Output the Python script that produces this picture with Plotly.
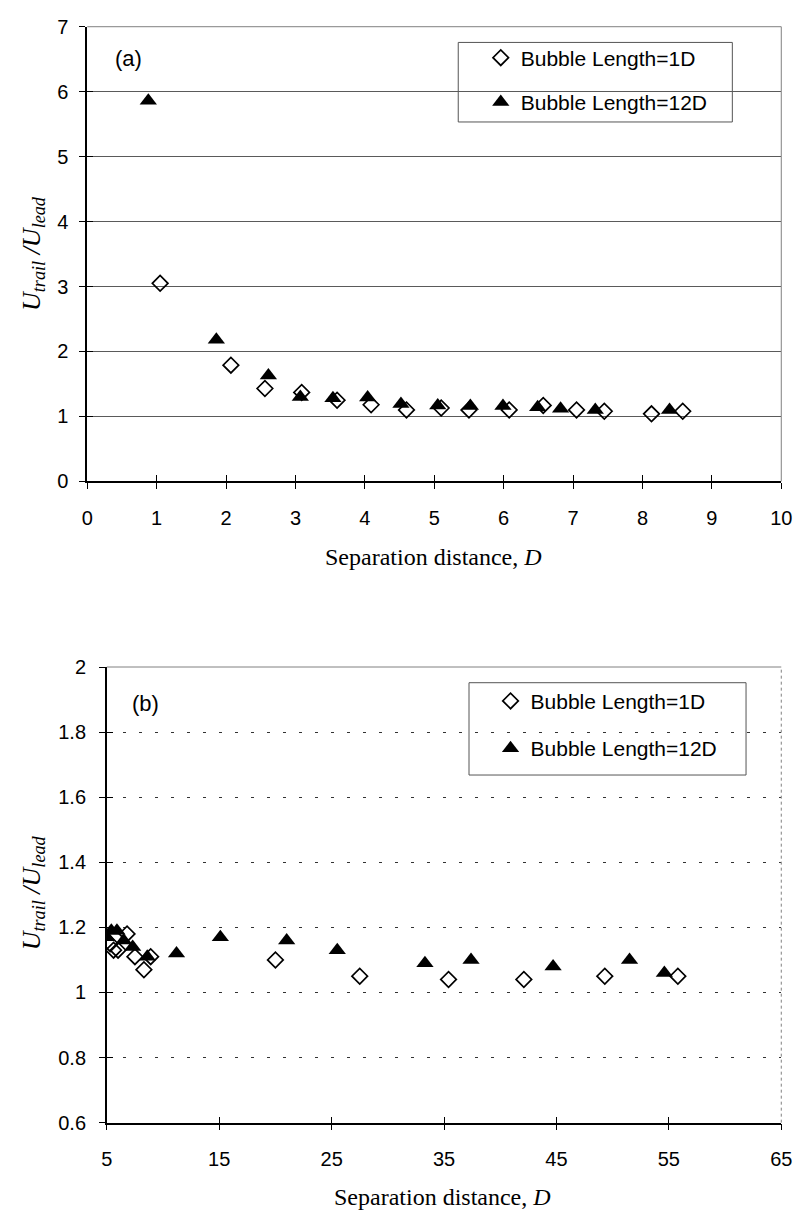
import plotly.graph_objects as go

# ---------- data: panel (a) ----------
a_1d_x = [1.05, 2.07, 2.56, 3.09, 3.60, 4.09, 4.60, 5.10, 5.50, 6.08, 6.57, 7.05, 7.45, 8.13, 8.58]
a_1d_y = [3.05, 1.79, 1.43, 1.37, 1.25, 1.18, 1.10, 1.13, 1.10, 1.10, 1.17, 1.10, 1.08, 1.04, 1.08]
a_12d_x = [0.88, 1.86, 2.61, 3.07, 3.54, 4.04, 4.52, 5.05, 5.52, 5.99, 6.49, 6.82, 7.32, 8.39]
a_12d_y = [5.86, 2.18, 1.63, 1.30, 1.28, 1.29, 1.19, 1.17, 1.16, 1.16, 1.14, 1.12, 1.10, 1.10]

# ---------- data: panel (b) ----------
b_1d_x = [5.3, 5.6, 6.0, 6.8, 7.5, 8.3, 8.9, 20.0, 27.5, 35.4, 42.1, 49.3, 55.8]
b_1d_y = [1.15, 1.13, 1.13, 1.18, 1.11, 1.07, 1.11, 1.10, 1.05, 1.04, 1.04, 1.05, 1.05]
b_12d_x = [5.0, 5.4, 5.9, 6.5, 7.3, 8.6, 11.2, 15.1, 21.0, 25.5, 33.3, 37.4, 44.7, 51.5, 54.6]
b_12d_y = [1.17, 1.19, 1.19, 1.16, 1.14, 1.11, 1.12, 1.17, 1.16, 1.13, 1.09, 1.10, 1.08, 1.10, 1.06]

a_xticks = list(range(0, 11))
a_yticks = list(range(0, 8))
b_xticks = [5, 15, 25, 35, 45, 55, 65]
b_yticks = [0.6, 0.8, 1.0, 1.2, 1.4, 1.6, 1.8, 2.0]
b_yticklabels = ["0.6", "0.8", "1", "1.2", "1.4", "1.6", "1.8", "2"]

series_names = ["Bubble Length=1D", "Bubble Length=12D"]

W, H = 805, 1225
def px(x): return x / W
def py(y): return 1 - y / H

fig = go.Figure()

diamond = dict(symbol="diamond-open", size=12, color="black", line=dict(width=1.7, color="black"))
tri = dict(symbol="triangle-up", size=15, color="black", line=dict(width=0))

fig.add_trace(go.Scatter(x=a_1d_x, y=a_1d_y, mode="markers", marker=diamond, name=series_names[0],
                         xaxis="x", yaxis="y", legend="legend", legendgroup="a1"))
fig.add_trace(go.Scatter(x=a_12d_x, y=a_12d_y, mode="markers", marker=tri, name=series_names[1],
                         xaxis="x", yaxis="y", legend="legend", legendgroup="a2"))
fig.add_trace(go.Scatter(x=b_1d_x, y=b_1d_y, mode="markers", marker=diamond, name=series_names[0],
                         xaxis="x2", yaxis="y2", legend="legend2", legendgroup="b1"))
fig.add_trace(go.Scatter(x=b_12d_x, y=b_12d_y, mode="markers", marker=tri, name=series_names[1],
                         xaxis="x2", yaxis="y2", legend="legend2", legendgroup="b2"))
# invisible traces so the overlay (inside-tick) axes are drawn
fig.add_trace(go.Scatter(x=[a_xticks[0]], y=[a_yticks[0]], mode="markers", marker=dict(opacity=0),
                         xaxis="x3", yaxis="y3", showlegend=False, hoverinfo="skip"))
fig.add_trace(go.Scatter(x=[b_xticks[0]], y=[b_yticks[0]], mode="markers", marker=dict(opacity=0),
                         xaxis="x4", yaxis="y4", showlegend=False, hoverinfo="skip"))

tickfont = dict(family="Liberation Sans, Arial, sans-serif", size=20, color="black")

axis_common = dict(showline=True, linecolor="black", linewidth=1.5, ticks="outside", ticklen=6,
                   tickcolor="black", tickwidth=1.3, tickfont=tickfont, zeroline=False)
inside_common = dict(showline=False, ticks="inside", ticklen=6, tickcolor="black", tickwidth=1.3,
                     showticklabels=False, showgrid=False, zeroline=False)

dom_ax = [px(83), px(792)]
dom_ay = [py(479), py(16)]
dom_bx = [px(103), px(792)]
dom_by = [py(1132), py(668)]

fig.update_layout(
    width=W, height=H,
    margin=dict(l=0, r=0, t=0, b=0),
    paper_bgcolor="white", plot_bgcolor="white",
    xaxis=dict(domain=dom_ax, range=[0, 10], tickvals=a_xticks, showgrid=False,
               anchor="y", ticklabelstandoff=12, **axis_common),
    yaxis=dict(domain=dom_ay, range=[0, 7], tickvals=a_yticks, showgrid=True,
               gridcolor="#5a5a5a", gridwidth=1, anchor="x", ticklabelstandoff=7, **axis_common),
    xaxis2=dict(domain=dom_bx, range=[5, 65], tickvals=b_xticks, showgrid=False,
                anchor="y2", ticklabelstandoff=12, **axis_common),
    yaxis2=dict(domain=dom_by, range=[0.6, 2.0], tickvals=b_yticks, ticktext=b_yticklabels,
                showgrid=True, gridcolor="#333333", gridwidth=1.2, griddash="3px,13px", anchor="x2",
                ticklabelstandoff=9, **axis_common),
    xaxis3=dict(domain=dom_ax, range=[0, 10], tickvals=a_xticks, overlaying="x", anchor="y3", **inside_common),
    yaxis3=dict(domain=dom_ay, range=[0, 7], tickvals=a_yticks, overlaying="y", anchor="x3", **inside_common),
    xaxis4=dict(domain=dom_bx, range=[5, 65], tickvals=b_xticks, overlaying="x2", anchor="y4", **inside_common),
    yaxis4=dict(domain=dom_by, range=[0.6, 2.0], tickvals=b_yticks, overlaying="y2", anchor="x4", **inside_common),
    legend=dict(x=px(485), y=py(27), xanchor="left", yanchor="top", bgcolor="rgba(0,0,0,0)",
                borderwidth=0, font=dict(family="Liberation Sans, Arial, sans-serif", size=21, color="black"),
                itemwidth=30, tracegroupgap=14),
    legend2=dict(x=px(495), y=py(682), xanchor="left", yanchor="top", bgcolor="rgba(0,0,0,0)",
                 borderwidth=0, font=dict(family="Liberation Sans, Arial, sans-serif", size=21, color="black"),
                 itemwidth=30, tracegroupgap=17),
    showlegend=True,
)

shapes = []
shapes.append(dict(type="line", xref="paper", yref="paper", x0=px(83), x1=px(792), y0=py(16), y1=py(16),
                   line=dict(color="#808080", width=1)))
shapes.append(dict(type="line", xref="paper", yref="paper", x0=px(792), x1=px(792), y0=py(479), y1=py(16),
                   line=dict(color="#808080", width=1)))
shapes.append(dict(type="line", xref="paper", yref="paper", x0=px(103), x1=px(792), y0=py(668), y1=py(668),
                   line=dict(color="#808080", width=1)))
shapes.append(dict(type="line", xref="paper", yref="paper", x0=px(792), x1=px(792), y0=py(1132), y1=py(668),
                   line=dict(color="#808080", width=1, dash="dot")))
shapes.append(dict(type="rect", xref="paper", yref="paper", x0=px(462), x1=px(742), y0=py(113), y1=py(32),
                   line=dict(color="#555555", width=1), fillcolor="white", layer="below"))
shapes.append(dict(type="rect", xref="paper", yref="paper", x0=px(473), x1=px(756), y0=py(778), y1=py(684),
                   line=dict(color="#555555", width=1), fillcolor="white", layer="below"))
fig.update_layout(shapes=shapes)

serif = "Liberation Serif, Times New Roman, serif"
sans = "Liberation Sans, Arial, sans-serif"
ytitle = "<i>U</i><sub><i>trail</i></sub><i> /U</i><sub><i>lead</i></sub>"
def note(text, x, y, font, angle=0):
    return dict(text=text, x=px(x), y=py(y), xanchor="center", yanchor="middle", textangle=angle,
                showarrow=False, xref="paper", yref="paper", font=font)

ann = [
    note("(a)", 125, 48, dict(family=sans, size=22, color="black")),
    note("(b)", 143, 705, dict(family=sans, size=22, color="black")),
    note("Separation distance, <i>D</i>", 437, 556, dict(family=serif, size=24, color="black")),
    note("Separation distance, <i>D</i>", 446, 1208, dict(family=serif, size=24, color="black")),
    note(ytitle, 27, 247, dict(family=serif, size=26, color="black"), -90),
    note(ytitle, 27, 898, dict(family=serif, size=26, color="black"), -90),
]
fig.update_layout(annotations=ann)

fig.write_html("out.html")
